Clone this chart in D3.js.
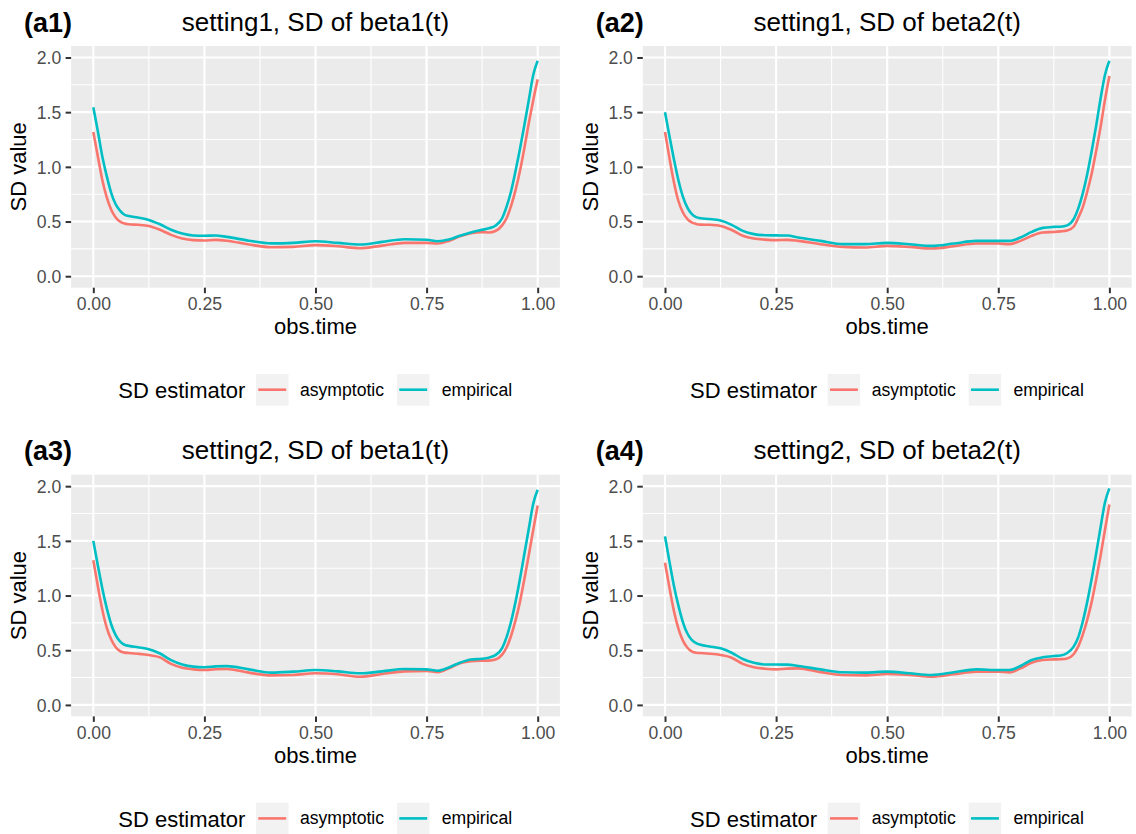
<!DOCTYPE html>
<html>
<head>
<meta charset="utf-8">
<script src="https://cdn.jsdelivr.net/npm/d3@7"></script>
<style>
  html, body { margin: 0; padding: 0; background: #ffffff; }
  svg { display: block; font-family: "Liberation Sans", Arial, Helvetica, sans-serif; }
</style>
</head>
<body>
<svg id="chart" width="1136" height="834"></svg>
<script>
// Observation times shared by every curve
const obsTime = [0, 0.01, 0.02, 0.03, 0.04, 0.05, 0.06, 0.07, 0.08,
  0.1, 0.125, 0.15, 0.175, 0.2, 0.225, 0.25, 0.275, 0.3,
  0.35, 0.4, 0.45, 0.5, 0.55, 0.6, 0.65, 0.7, 0.75,
  0.775, 0.8, 0.825, 0.85, 0.875,
  0.89, 0.905, 0.92, 0.93, 0.94, 0.95, 0.96, 0.97, 0.98, 0.99, 1.0];

// setting1, beta1(t)
const s1b1Asymptotic = [1.318, 1.10, 0.885, 0.725, 0.61, 0.54, 0.50, 0.482, 0.475,
  0.47, 0.46, 0.425, 0.378, 0.345, 0.33, 0.327, 0.332, 0.325,
  0.29, 0.265, 0.268, 0.284, 0.274, 0.256, 0.28, 0.305, 0.305,
  0.299, 0.323, 0.365, 0.393, 0.403,
  0.40, 0.413, 0.465, 0.53, 0.64, 0.785, 0.96, 1.17, 1.40, 1.61, 1.80];
const s1b1Empirical = [1.545, 1.33, 1.10, 0.92, 0.765, 0.66, 0.60, 0.562, 0.55,
  0.536, 0.515, 0.475, 0.425, 0.39, 0.372, 0.37, 0.372, 0.36,
  0.325, 0.30, 0.305, 0.32, 0.305, 0.29, 0.314, 0.338, 0.333,
  0.32, 0.335, 0.369, 0.40, 0.424,
  0.438, 0.462, 0.53, 0.636, 0.775, 0.96, 1.16, 1.38, 1.61, 1.84, 1.97];

// setting1, beta2(t)
const s1b2Asymptotic = [1.318, 1.08, 0.86, 0.69, 0.585, 0.525, 0.492, 0.478, 0.472,
  0.47, 0.46, 0.423, 0.37, 0.345, 0.335, 0.33, 0.332, 0.323,
  0.293, 0.268, 0.262, 0.277, 0.268, 0.253, 0.274, 0.299, 0.299,
  0.293, 0.323, 0.369, 0.40, 0.405,
  0.41, 0.418, 0.455, 0.535, 0.63, 0.77, 0.935, 1.14, 1.36, 1.61, 1.83];
const s1b2Empirical = [1.50, 1.28, 1.07, 0.88, 0.73, 0.63, 0.57, 0.54, 0.53,
  0.523, 0.509, 0.47, 0.415, 0.385, 0.375, 0.373, 0.372, 0.354,
  0.323, 0.293, 0.293, 0.305, 0.293, 0.277, 0.299, 0.323, 0.323,
  0.323, 0.354, 0.405, 0.442, 0.451,
  0.453, 0.465, 0.525, 0.62, 0.755, 0.93, 1.14, 1.37, 1.62, 1.84, 1.97];

// setting2, beta1(t)
const s2b1Asymptotic = [1.322, 1.09, 0.875, 0.71, 0.60, 0.53, 0.492, 0.478, 0.475,
  0.468, 0.456, 0.435, 0.375, 0.34, 0.325, 0.319, 0.326, 0.328,
  0.295, 0.27, 0.274, 0.289, 0.28, 0.258, 0.283, 0.307, 0.31,
  0.30, 0.334, 0.38, 0.40, 0.404,
  0.405, 0.415, 0.46, 0.525, 0.63, 0.77, 0.94, 1.15, 1.37, 1.60, 1.824];
const s2b1Empirical = [1.50, 1.28, 1.07, 0.89, 0.74, 0.64, 0.58, 0.55, 0.54,
  0.527, 0.51, 0.47, 0.41, 0.37, 0.35, 0.345, 0.352, 0.355,
  0.325, 0.295, 0.304, 0.319, 0.307, 0.289, 0.307, 0.328, 0.325,
  0.313, 0.343, 0.386, 0.416, 0.422,
  0.432, 0.455, 0.52, 0.62, 0.76, 0.94, 1.15, 1.38, 1.61, 1.84, 1.967];

// setting2, beta2(t)
const s2b2Asymptotic = [1.30, 1.07, 0.86, 0.70, 0.59, 0.525, 0.49, 0.477, 0.474,
  0.468, 0.456, 0.432, 0.375, 0.345, 0.331, 0.325, 0.332, 0.334,
  0.30, 0.274, 0.27, 0.283, 0.274, 0.258, 0.28, 0.304, 0.304,
  0.298, 0.334, 0.386, 0.41, 0.416,
  0.418, 0.425, 0.465, 0.535, 0.64, 0.775, 0.94, 1.14, 1.36, 1.60, 1.833];
const s2b2Empirical = [1.541, 1.31, 1.09, 0.91, 0.76, 0.655, 0.595, 0.565, 0.55,
  0.535, 0.517, 0.477, 0.42, 0.385, 0.37, 0.37, 0.368, 0.356,
  0.325, 0.298, 0.295, 0.304, 0.289, 0.274, 0.298, 0.325, 0.319,
  0.319, 0.356, 0.41, 0.435, 0.447,
  0.452, 0.475, 0.535, 0.62, 0.76, 0.94, 1.15, 1.38, 1.62, 1.85, 1.98];

const panelTags = ["(a1)", "(a2)", "(a3)", "(a4)"];
const panelTitles = ["setting1, SD of beta1(t)", "setting1, SD of beta2(t)",
                     "setting2, SD of beta1(t)", "setting2, SD of beta2(t)"];
const asymptoticSeries = [s1b1Asymptotic, s1b2Asymptotic, s2b1Asymptotic, s2b2Asymptotic];
const empiricalSeries  = [s1b1Empirical, s1b2Empirical, s2b1Empirical, s2b2Empirical];

const estimatorNames = ["asymptotic", "empirical"];
const estimatorColors = ["#F8766D", "#00BFC4"];

const xTicks = [0, 0.25, 0.5, 0.75, 1];
const xTickLabels = ["0.00", "0.25", "0.50", "0.75", "1.00"];
const xMinor = [0.125, 0.375, 0.625, 0.875];
const yTicks = [0, 0.5, 1, 1.5, 2];
const yTickLabels = ["0.0", "0.5", "1.0", "1.5", "2.0"];
const yMinor = [0.25, 0.75, 1.25, 1.75];

// Panel geometry
const colX = [71.1, 642.8];
const rowY = [46, 474.7];
const pw = 488.8, ph = 241.7;

const x = d3.scaleLinear().domain([-0.05, 1.05]).range([0, pw]);
const y = d3.scaleLinear().domain([-0.105, 2.105]).range([ph, 0]);

const svg = d3.select("#chart");

const tickFs = 17.6, axisTitleFs = 22, titleFs = 26, tagFs = 27, legendFs = 17.6;

panelTitles.forEach((title, i) => {
  const g = svg.append("g")
    .attr("transform", `translate(${colX[i % 2]},${rowY[Math.floor(i / 2)]})`);

  // panel background
  g.append("rect").attr("width", pw).attr("height", ph).attr("fill", "#EBEBEB");

  // minor grid
  g.selectAll(".xminor").data(xMinor).join("line")
    .attr("x1", d => x(d)).attr("x2", d => x(d)).attr("y1", 0).attr("y2", ph)
    .attr("stroke", "#FFFFFF").attr("stroke-width", 1.07);
  g.selectAll(".yminor").data(yMinor).join("line")
    .attr("y1", d => y(d)).attr("y2", d => y(d)).attr("x1", 0).attr("x2", pw)
    .attr("stroke", "#FFFFFF").attr("stroke-width", 1.07);

  // major grid
  g.selectAll(".xmajor").data(xTicks).join("line")
    .attr("x1", d => x(d)).attr("x2", d => x(d)).attr("y1", 0).attr("y2", ph)
    .attr("stroke", "#FFFFFF").attr("stroke-width", 2.13);
  g.selectAll(".ymajor").data(yTicks).join("line")
    .attr("y1", d => y(d)).attr("y2", d => y(d)).attr("x1", 0).attr("x2", pw)
    .attr("stroke", "#FFFFFF").attr("stroke-width", 2.13);

  // axes
  const xAxis = d3.axisBottom(x).tickValues(xTicks)
    .tickFormat((d, k) => xTickLabels[k]).tickSize(5.5).tickPadding(4.4);
  const xa = g.append("g").attr("transform", `translate(0,${ph})`).call(xAxis);
  xa.select(".domain").remove();
  xa.selectAll(".tick line").attr("stroke", "#333333").attr("stroke-width", 2);
  xa.selectAll(".tick text").attr("fill", "#4D4D4D")
    .attr("font-size", tickFs).attr("font-family", "Liberation Sans, Arial, sans-serif")
    .attr("dy", null).attr("y", 22.5).attr("dominant-baseline", "alphabetic");

  const yAxis = d3.axisLeft(y).tickValues(yTicks)
    .tickFormat((d, k) => yTickLabels[k]).tickSize(5.5).tickPadding(4.4);
  const ya = g.append("g").call(yAxis);
  ya.select(".domain").remove();
  ya.selectAll(".tick line").attr("stroke", "#333333").attr("stroke-width", 2);
  ya.selectAll(".tick text").attr("fill", "#4D4D4D")
    .attr("font-size", tickFs).attr("font-family", "Liberation Sans, Arial, sans-serif")
    .attr("dy", "0.36em");

  // curves
  const line = d3.line()
    .x((d, k) => x(obsTime[k]))
    .y(d => y(d))
    .curve(d3.curveMonotoneX);
  [asymptoticSeries[i], empiricalSeries[i]].forEach((vals, s) => {
    g.append("path").datum(vals)
      .attr("d", line)
      .attr("fill", "none")
      .attr("stroke", estimatorColors[s])
      .attr("stroke-width", 2.6)
      .attr("stroke-linejoin", "round");
  });

  // axis titles
  g.append("text").attr("x", pw / 2).attr("y", ph + 46.5)
    .attr("text-anchor", "middle").attr("font-size", axisTitleFs).attr("fill", "#000")
    .text("obs.time");
  g.append("text")
    .attr("transform", `translate(-45.1,${ph / 2}) rotate(-90)`)
    .attr("text-anchor", "middle").attr("font-size", axisTitleFs).attr("fill", "#000")
    .text("SD value");

  // panel title and tag
  g.append("text").attr("x", pw / 2).attr("y", -15.5)
    .attr("text-anchor", "middle").attr("font-size", titleFs).attr("fill", "#000")
    .text(title);
  g.append("text").attr("x", -47.1).attr("y", -14.5)
    .attr("font-size", tagFs).attr("font-weight", "bold").attr("fill", "#000")
    .text(panelTags[i]);

  // legend
  const lg = g.append("g").attr("transform", `translate(0,${ph})`);
  lg.append("text").attr("x", 47.2).attr("y", 110.3)
    .attr("font-size", axisTitleFs).attr("fill", "#000").text("SD estimator");
  const keyX = [184.9, 325.9], labelX = [228.9, 370.6];
  estimatorNames.forEach((name, s) => {
    lg.append("rect").attr("x", keyX[s]).attr("y", 86.3)
      .attr("width", 32.5).attr("height", 31.7).attr("fill", "#F2F2F2");
    lg.append("line").attr("x1", keyX[s] + 2.3).attr("x2", keyX[s] + 30.2)
      .attr("y1", 102).attr("y2", 102)
      .attr("stroke", estimatorColors[s]).attr("stroke-width", 2.6);
    lg.append("text").attr("x", labelX[s]).attr("y", 108)
      .attr("font-size", legendFs).attr("fill", "#000").text(name);
  });
});
</script>
</body>
</html>
